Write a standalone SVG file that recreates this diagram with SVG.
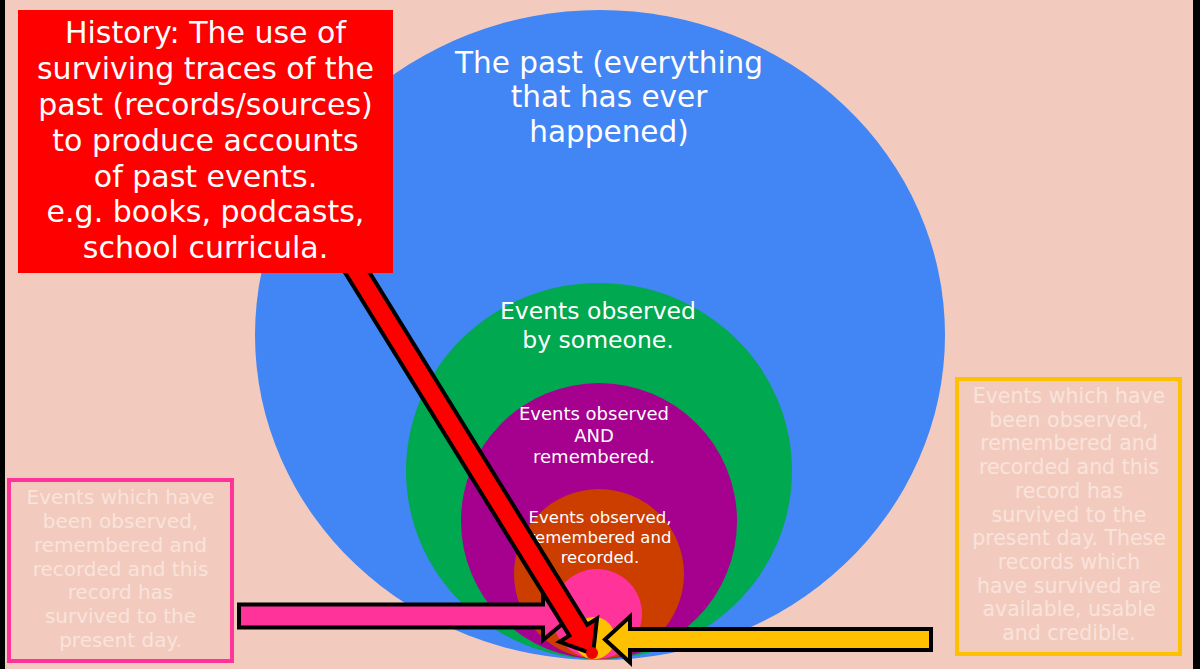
<svg xmlns="http://www.w3.org/2000/svg" width="1200" height="669" viewBox="0 0 1200 669">
<style>
  text { font-family: "DejaVu Sans", "Liberation Sans", sans-serif; text-anchor: middle; }
  .w { fill: #FFFFFF; }
  .lt { fill: #F9E3DB; }
  .arrow { stroke: #000000; stroke-width: 4; stroke-linejoin: miter; }
</style>
<rect x="0" y="0" width="1200" height="669" fill="#F2CBBE"/>
<rect x="0" y="0" width="5" height="669" fill="#000000"/>
<rect x="1193" y="0" width="7" height="669" fill="#000000"/>

<g id="past">
  <ellipse cx="600" cy="335" rx="345" ry="325" fill="#4285F4"/>
  <text class="w" font-size="29.5"><tspan x="609" y="73">The past (everything</tspan><tspan x="609" y="107">that has ever</tspan><tspan x="609" y="142">happened)</tspan></text>
</g>
<g id="observed">
  <ellipse cx="599" cy="471" rx="193" ry="188" fill="#00A84F"/>
  <text class="w" font-size="23.5"><tspan x="598" y="319">Events observed</tspan><tspan x="598" y="348">by someone.</tspan></text>
</g>
<g id="remembered">
  <circle cx="599" cy="521" r="138" fill="#A6008F"/>
  <text class="w" font-size="18"><tspan x="594" y="420">Events observed</tspan><tspan x="594" y="442">AND</tspan><tspan x="594" y="463">remembered.</tspan></text>
</g>
<g id="recorded">
  <circle cx="599" cy="574" r="85" fill="#CC3D00"/>
  <text class="w" font-size="16.5"><tspan x="600" y="523">Events observed,</tspan><tspan x="600" y="543">remembered and</tspan><tspan x="600" y="563">recorded.</tspan></text>
</g>
<g id="survived">
  <circle cx="597" cy="614" r="45" fill="#FF3399"/>
</g>
<g id="credible">
  <circle cx="594" cy="638" r="21" fill="#FFC000"/>
</g>

<g id="connectors">
  <polygon class="arrow" fill="#FF3399" points="239,604.5 543,604.5 543,592 572,616 543,640 543,627.5 239,627.5"/>
  <polygon class="arrow" fill="#FFC000" points="931,629 630,629 630,616.5 605,639.5 630,662.5 630,650 931,650"/>
  <polygon class="arrow" fill="#FF0000" points="336.9,259.5 354.7,248.5 587.2,624.7 597.0,618.6 593,654 559.6,641.8 569.4,635.7"/>
</g>

<g id="present-dot">
  <circle cx="592" cy="653" r="6" fill="#EE0000"/>
</g>

<g id="history">
  <rect x="18" y="10" width="375" height="263" fill="#FF0000"/>
  <text class="w" font-size="30"><tspan x="205.5" y="43">History: The use of</tspan><tspan x="205.5" y="79">surviving traces of the</tspan><tspan x="205.5" y="115">past (records/sources)</tspan><tspan x="205.5" y="151">to produce accounts</tspan><tspan x="205.5" y="187">of past events.</tspan><tspan x="205.5" y="222">e.g. books, podcasts,</tspan><tspan x="205.5" y="258">school curricula.</tspan></text>
</g>

<g id="survived-box">
  <rect x="9" y="480" width="223" height="181" fill="none" stroke="#FF3399" stroke-width="4"/>
  <text class="lt" font-size="20"><tspan x="120.5" y="504">Events which have</tspan><tspan x="120.5" y="528">been observed,</tspan><tspan x="120.5" y="552">remembered and</tspan><tspan x="120.5" y="576">recorded and this</tspan><tspan x="120.5" y="599">record has</tspan><tspan x="120.5" y="623">survived to the</tspan><tspan x="120.5" y="647">present day.</tspan></text>
</g>

<g id="credible-box">
  <rect x="957" y="379" width="223" height="275" fill="none" stroke="#FFC000" stroke-width="4"/>
  <text class="lt" font-size="20.5"><tspan x="1069" y="403">Events which have</tspan><tspan x="1069" y="426.7">been observed,</tspan><tspan x="1069" y="450.4">remembered and</tspan><tspan x="1069" y="474.1">recorded and this</tspan><tspan x="1069" y="497.8">record has</tspan><tspan x="1069" y="521.5">survived to the</tspan><tspan x="1069" y="545.2">present day. These</tspan><tspan x="1069" y="568.9">records which</tspan><tspan x="1069" y="592.6">have survived are</tspan><tspan x="1069" y="616.3">available, usable</tspan><tspan x="1069" y="640">and credible.</tspan></text>
</g>
</svg>
